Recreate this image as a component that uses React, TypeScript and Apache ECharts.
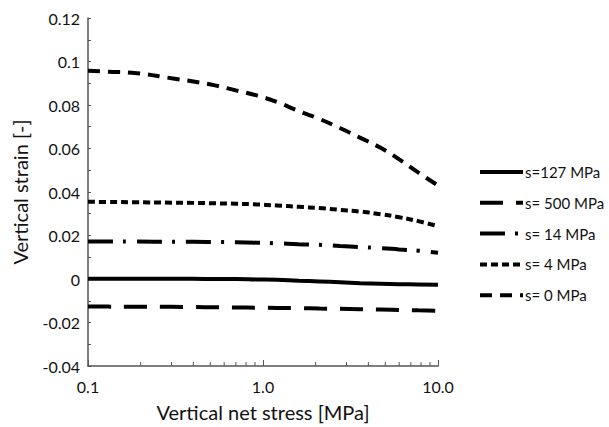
import React, { useEffect, useRef } from "react";
import * as echarts from "echarts";

// Vertical net stress [MPa] sample points (log scale)
const stress = [0.1, 0.13, 0.19, 0.3, 0.4, 0.54, 0.7, 0.92, 1.2, 1.6, 2.1, 2.75, 3.6, 4.7, 6.0, 7.7, 10];

// Vertical strain [-] for each suction level
const s0 = [0.0957, 0.0953, 0.0946, 0.0923, 0.0908, 0.0889, 0.0867, 0.0844, 0.0814, 0.0772, 0.0736, 0.0694, 0.0649, 0.0603, 0.055, 0.049, 0.043];
const s4 = [0.0355, 0.0354, 0.0353, 0.0351, 0.035, 0.0348, 0.0346, 0.0343, 0.0338, 0.0332, 0.0326, 0.0318, 0.031, 0.0298, 0.0284, 0.0266, 0.0243];
const s14 = [0.0172, 0.0172, 0.0172, 0.0171, 0.0171, 0.017, 0.0169, 0.0167, 0.0164, 0.016, 0.0157, 0.0152, 0.0147, 0.0142, 0.0136, 0.013, 0.0121];
const s127 = [0.0001, 0.0001, 0.0001, 0.0001, 0.0001, 0.0, 0.0, -0.0002, -0.0004, -0.0008, -0.0011, -0.0015, -0.0019, -0.0022, -0.0024, -0.0025, -0.0027];
const s500 = [-0.0127, -0.0127, -0.0128, -0.0128, -0.0129, -0.013, -0.0131, -0.0132, -0.0133, -0.0134, -0.0136, -0.0137, -0.0139, -0.014, -0.0142, -0.0144, -0.0146];

const seriesNames = ["s=127 MPa", "s= 500 MPa", "s= 14 MPa", "s= 4 MPa", "s= 0 MPa"];
const seriesValues = [s127, s500, s14, s4, s0];
const dashes: (number[] | null)[] = [null, [23, 13], [25, 10, 3, 11], [7, 4], [12, 8]];

// minor ticks of the log x axis
const minorTickValues = [0.2, 0.3, 0.4, 0.5, 0.6, 0.7, 0.8, 0.9, 2, 3, 4, 5, 6, 7, 8, 9];

const FONT = "Lato, 'Open Sans', sans-serif";

export default function App() {
  const ref = useRef<HTMLDivElement>(null);

  useEffect(() => {
    if (!ref.current) return;
    const chart = echarts.init(ref.current, undefined, { renderer: "svg" });

    const lineSeries = seriesNames.map((name, i) => ({
      name,
      type: "line" as const,
      data: stress.map((x, j) => [x, seriesValues[i][j]]),
      smooth: true,
      showSymbol: false,
      symbol: "none",
      lineStyle: {
        color: "#000",
        width: 4,
        type: dashes[i] ? dashes[i] : "solid",
        cap: "butt",
      },
      z: 3,
    }));

    const legendTop = 172;
    const legendStep = 30.8;
    const legendGraphics: any[] = [];
    seriesNames.forEach((name, i) => {
      const y = legendTop + i * legendStep;
      legendGraphics.push({
        type: "line",
        shape: { x1: 480, y1: y, x2: 523, y2: y },
        style: { stroke: "#000", lineWidth: 4, lineDash: dashes[i] || null },
      });
      legendGraphics.push({
        type: "text",
        x: 525,
        y,
        style: {
          text: name,
          font: `15px ${FONT}`,
          fill: "#111",
          textVerticalAlign: "middle",
          verticalAlign: "middle",
        },
      });
    });

    chart.setOption({
      animation: false,
      backgroundColor: "#fff",
      grid: { left: 88, right: 171, top: 18, bottom: 55, containLabel: false },
      xAxis: {
        type: "log",
        logBase: 10,
        min: 0.1,
        max: 10,
        name: "Vertical net stress [MPa]",
        nameLocation: "middle",
        nameGap: 36,
        nameTextStyle: { fontSize: 20, color: "#111", fontFamily: FONT },
        axisLine: { show: true, onZero: false, lineStyle: { color: "#555", width: 1.5 } },
        axisTick: { show: true, inside: true, length: 6, lineStyle: { color: "#555" } },
        axisLabel: {
          fontSize: 16,
          color: "#111",
          fontFamily: FONT,
          margin: 12,
          formatter: (v: number) => v.toFixed(1),
        },
        splitLine: { show: false },
      },
      yAxis: {
        type: "value",
        min: -0.04,
        max: 0.12,
        interval: 0.02,
        name: "Vertical strain [-]",
        nameLocation: "middle",
        nameGap: 58,
        nameTextStyle: { fontSize: 20, color: "#111", fontFamily: FONT },
        axisLine: { show: true, onZero: false, lineStyle: { color: "#555", width: 1.5 } },
        axisTick: { show: true, inside: true, length: 3, lineStyle: { color: "#555" } },
        minorTick: { show: true, splitNumber: 2, length: 3, lineStyle: { color: "#555" } },
        axisLabel: {
          fontSize: 16,
          color: "#111",
          fontFamily: FONT,
          margin: 8,
          formatter: (v: number) => String(Math.round(v * 100) / 100),
        },
        splitLine: { show: false },
      },
      graphic: legendGraphics,
      series: [
        ...lineSeries,
        {
          type: "custom",
          silent: true,
          data: minorTickValues.map((v) => [v, -0.04]),
          renderItem: (params: any, api: any) => {
            const p = api.coord([api.value(0), api.value(1)]);
            return {
              type: "line",
              shape: { x1: p[0], y1: p[1], x2: p[0], y2: p[1] - 4 },
              style: { stroke: "#555", lineWidth: 1 },
            };
          },
          z: 2,
        },
      ],
    });

    return () => chart.dispose();
  }, []);

  return <div ref={ref} style={{ width: 609, height: 427, position: "absolute", left: 0, top: 0 }} />;
}
